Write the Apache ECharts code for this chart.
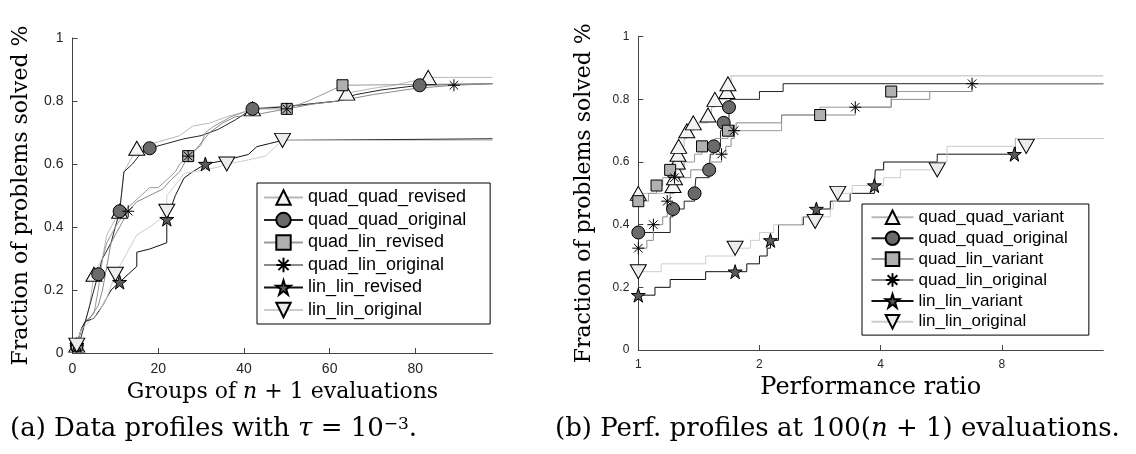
<!DOCTYPE html>
<html>
<head>
<meta charset="utf-8">
<script src="https://cdn.jsdelivr.net/npm/echarts@6/dist/echarts.min.js"></script>
<style>
  html, body { margin: 0; padding: 0; background: #fff; }
  #wrap { position: relative; width: 1136px; height: 454px; }
  #left { position: absolute; left: 0; top: 0; width: 540px; height: 454px; }
  #right { position: absolute; left: 540px; top: 0; width: 596px; height: 454px; }
</style>
</head>
<body>
<div id="wrap"><div id="left"></div><div id="right"></div></div>
<script>
// (a) data profiles: x = groups of n+1 evaluations, y = fraction solved
const dpNames = ["quad_quad_revised", "quad_quad_original", "quad_lin_revised",
  "quad_lin_original", "lin_lin_revised", "lin_lin_original"];
const dpTicks = [0, 20, 40, 60, 80];

const dpQQRev = [[1,0.025],[2,0.075],[3,0.1],[4,0.15],[5,0.25],[6,0.275],[7,0.3],[8,0.375],[9,0.4],[10,0.425],[11,0.45],[12,0.575],[13,0.6],[14,0.625],[15,0.65],[20,0.67],[25,0.69],[28,0.72],[32,0.73],[36,0.75],[40,0.765],[42,0.775],[50,0.785],[55,0.79],[62,0.8],[64,0.825],[70,0.84],[75,0.85],[80,0.865],[83,0.875],[98,0.875]];
const dpQQOrig = [[1,0.025],[2,0.05],[3,0.1],[4,0.15],[5,0.2],[6,0.25],[7,0.3],[9,0.35],[10,0.4],[11,0.45],[12,0.575],[14,0.6],[16,0.635],[18,0.65],[22,0.665],[26,0.68],[30,0.69],[34,0.71],[38,0.74],[42,0.775],[48,0.78],[55,0.79],[62,0.8],[66,0.82],[72,0.835],[81,0.85],[98,0.855]];
const dpQLRev = [[1,0.025],[2,0.075],[3,0.1],[5,0.125],[6,0.2],[7,0.3],[8,0.35],[9,0.375],[10,0.4],[11,0.42],[12,0.45],[14,0.475],[16,0.5],[18,0.525],[20,0.525],[22,0.55],[24,0.575],[25,0.6],[27,0.625],[30,0.66],[31,0.7],[33,0.72],[37,0.75],[42,0.775],[50,0.775],[55,0.8],[63,0.85],[98,0.855]];
const dpQLOrig = [[1,0.025],[2,0.07],[3,0.1],[4,0.11],[6,0.15],[7,0.2],[8,0.275],[9,0.35],[10,0.375],[11,0.4],[13,0.45],[15,0.48],[18,0.5],[21,0.52],[23,0.55],[25,0.575],[26,0.6],[27,0.625],[29,0.65],[32,0.7],[35,0.73],[38,0.75],[44,0.76],[50,0.775],[56,0.79],[62,0.8],[70,0.82],[80,0.84],[89,0.85],[98,0.855]];
const dpLLRev = [[1,0.025],[2,0.075],[3,0.1],[5,0.11],[7,0.15],[9,0.2],[11,0.225],[13,0.25],[15,0.275],[15,0.32],[18,0.33],[22,0.35],[22,0.425],[24,0.5],[26,0.555],[28,0.575],[31,0.6],[35,0.61],[38,0.62],[41,0.63],[43,0.655],[46,0.665],[49,0.675],[98,0.68]];
const dpLLOrig = [[1,0.025],[2,0.075],[4,0.1],[6,0.125],[8,0.175],[10,0.25],[12,0.3],[14,0.35],[15,0.375],[18,0.4],[20,0.42],[22,0.45],[22,0.5],[25,0.55],[26,0.57],[30,0.58],[34,0.59],[36,0.6],[40,0.61],[45,0.625],[47,0.65],[49,0.675],[98,0.675]];

// marker positions on the data profile curves
const dpQQRevMk = [[1,0.025],[5,0.25],[11,0.45],[15,0.65],[42,0.775],[64,0.825],[83,0.875]];
const dpQQOrigMk = [[1,0.025],[6,0.25],[11,0.45],[18,0.65],[42,0.775],[81,0.85]];
const dpQLRevMk = [[1,0.025],[27,0.625],[50,0.775],[63,0.85]];
const dpQLOrigMk = [[1,0.025],[13,0.45],[27,0.625],[50,0.775],[89,0.85]];
const dpLLRevMk = [[1,0.025],[11,0.225],[22,0.425],[31,0.6]];
const dpLLOrigMk = [[1,0.025],[10,0.25],[22,0.45],[36,0.6],[49,0.675]];

// (b) performance profiles: x = performance ratio (log2), y = fraction solved
const ppNames = ["quad_quad_variant", "quad_quad_original", "quad_lin_variant",
  "quad_lin_original", "lin_lin_variant", "lin_lin_original"];
const ppTicks = [1, 2, 4, 8];

const ppQQVar = [[1,0.5],[1.22,0.525],[1.23,0.55],[1.24,0.575],[1.25,0.6],[1.255,0.625],[1.26,0.65],[1.3,0.675],[1.32,0.7],[1.37,0.725],[1.49,0.75],[1.52,0.775],[1.55,0.8],[1.66,0.825],[1.67,0.85],[1.7,0.875],[14.3,0.875]];
const ppQQOrig = [[1,0.375],[1.2,0.425],[1.22,0.45],[1.3,0.475],[1.38,0.5],[1.39,0.55],[1.5,0.575],[1.51,0.625],[1.54,0.65],[1.6,0.7],[1.63,0.725],[1.68,0.775],[1.69,0.8],[2.0,0.825],[2.29,0.85],[14.3,0.85]];
const ppQLVar = [[1,0.475],[1.06,0.5],[1.11,0.525],[1.15,0.55],[1.2,0.575],[1.3,0.6],[1.38,0.625],[1.44,0.65],[1.55,0.675],[1.67,0.7],[2.27,0.75],[2.83,0.775],[4.25,0.825],[6.75,0.85],[14.3,0.85]];
const ppQLOrig = [[1,0.325],[1.05,0.35],[1.09,0.4],[1.15,0.425],[1.18,0.475],[1.2,0.5],[1.23,0.55],[1.35,0.575],[1.5,0.6],[1.61,0.625],[1.65,0.65],[1.7,0.675],[1.73,0.7],[1.75,0.725],[2.27,0.75],[3.46,0.775],[4.25,0.8],[5.3,0.825],[6.75,0.85],[14.3,0.85]];
const ppLLVar = [[1,0.175],[1.1,0.2],[1.2,0.225],[1.47,0.25],[1.86,0.275],[2.0,0.3],[2.09,0.325],[2.13,0.35],[2.23,0.4],[2.57,0.425],[2.77,0.45],[3.0,0.475],[3.36,0.5],[3.86,0.525],[3.88,0.575],[4.07,0.6],[5.53,0.625],[8.65,0.675],[14.3,0.675]];
const ppLLOrig = [[1,0.25],[1.14,0.275],[1.47,0.3],[1.74,0.325],[1.9,0.35],[2.0,0.375],[2.17,0.4],[2.55,0.425],[3.0,0.45],[3.05,0.475],[3.13,0.5],[3.4,0.525],[4.07,0.55],[4.48,0.575],[5.53,0.6],[5.85,0.65],[8.65,0.675],[14.3,0.675]];

const ppQQVarMk = [[1,0.5],[1.22,0.525],[1.23,0.55],[1.24,0.575],[1.25,0.6],[1.255,0.625],[1.26,0.65],[1.32,0.7],[1.37,0.725],[1.49,0.75],[1.55,0.8],[1.66,0.825],[1.67,0.85]];
const ppQQOrigMk = [[1,0.375],[1.22,0.45],[1.38,0.5],[1.5,0.575],[1.54,0.65],[1.63,0.725],[1.68,0.775]];
const ppQLVarMk = [[1,0.475],[1.11,0.525],[1.2,0.575],[1.44,0.65],[1.67,0.7],[2.83,0.75],[4.25,0.825]];
const ppQLOrigMk = [[1,0.325],[1.09,0.4],[1.18,0.475],[1.23,0.55],[1.61,0.625],[1.73,0.7],[3.46,0.775],[6.75,0.85]];
const ppLLVarMk = [[1,0.175],[1.74,0.25],[2.13,0.35],[2.77,0.45],[3.86,0.525],[8.6,0.625]];
const ppLLOrigMk = [[1,0.25],[1.74,0.325],[2.75,0.41],[3.13,0.5],[5.53,0.575],[9.2,0.65]];

// marker shapes, same order in both panels
const SYM_TRI_UP = "triangle";
const SYM_TRI_DOWN = "path://M-1,-0.85L1,-0.85L0,0.85Z";
const SYM_STAR = "path://M0,-1L0.2245,-0.309L0.951,-0.309L0.363,0.118L0.588,0.809L0,0.382L-0.588,0.809L-0.363,0.118L-0.951,-0.309L-0.2245,-0.309Z";
const SYM_ASTER = "path://M0,-1L0,1M-1,0L1,0M-0.71,-0.71L0.71,0.71M-0.71,0.71L0.71,-0.71";

const styles = [
  { symbol: SYM_TRI_UP, size: [16, 14], fill: "#f4f4f4", line: "#b8b8b8" },
  { symbol: "circle", size: 13, fill: "#6a6a6a", line: "#262626" },
  { symbol: "rect", size: 11, fill: "#b0b0b0", line: "#9a9a9a" },
  { symbol: SYM_ASTER, size: 12, fill: "#000", line: "#8a8a8a" },
  { symbol: SYM_STAR, size: 14, fill: "#5a5a5a", line: "#111" },
  { symbol: SYM_TRI_DOWN, size: [16, 14], fill: "#ececec", line: "#cdcdcd" },
];

const TICK_FONT = "Liberation Sans";
const MATH_FONT = "DejaVu Serif";
const AXIS_COLOR = "#444";

function buildSeries(names, lines, marks, step) {
  const out = [];
  names.forEach((name, i) => {
    const st = styles[i];
    out.push({
      type: "line", name: name, data: lines[i], step: step,
      symbol: st.symbol, symbolSize: st.size, showSymbol: false,
      lineStyle: { color: st.line, width: 1 },
      itemStyle: { color: st.fill, borderColor: "#000", borderWidth: 1 },
      emphasis: { disabled: true }, silent: true, z: 2,
    });
    out.push({
      type: "scatter", name: name + "_marks", data: marks[i],
      symbol: st.symbol, symbolSize: st.size,
      itemStyle: { color: st.fill, borderColor: "#000", borderWidth: 1, opacity: 1 },
      emphasis: { disabled: true }, silent: true, z: 2,
    });
  });
  return out;
}

function yAxisOpt(fontSize, gap) {
  return {
    type: "value", min: 0, max: 1, interval: 0.2,
    name: "Fraction of problems solved %",
    nameLocation: "middle", nameGap: gap,
    nameTextStyle: { fontFamily: MATH_FONT, fontSize: 22, color: "#000" },
    axisLine: { show: true, lineStyle: { color: AXIS_COLOR, width: 1 } },
    axisTick: { show: true, inside: true, length: 5, lineStyle: { color: AXIS_COLOR } },
    axisLabel: { fontFamily: TICK_FONT, fontSize: fontSize, color: "#262626", margin: 9 },
    splitLine: { show: false },
  };
}

function legendOpt(names, pos) {
  return {
    data: names, orient: "vertical", selectedMode: false,
    left: pos.left, top: pos.top, padding: pos.padding,
    itemWidth: pos.itemWidth, itemHeight: pos.itemHeight, itemGap: pos.itemGap,
    backgroundColor: "#fff", borderColor: "#000", borderWidth: 1, borderRadius: 0,
    textStyle: { fontFamily: TICK_FONT, fontSize: pos.fontSize, lineHeight: pos.itemHeight, color: "#000" },
  };
}

const CAP_SIZE = 26;
const captionRich = {
  i: { fontFamily: MATH_FONT, fontStyle: "italic", fontSize: CAP_SIZE, color: "#000" },
  sup: { fontFamily: MATH_FONT, fontSize: 17, color: "#000", verticalAlign: "top" },
};

// left panel
const leftChart = echarts.init(document.getElementById("left"));
leftChart.setOption({
  animation: false,
  backgroundColor: "#fff",
  title: {
    text: "(a) Data profiles with {i|τ} = 10{sup|−3}.",
    left: 5, top: 411,
    textStyle: { fontFamily: MATH_FONT, fontSize: CAP_SIZE, fontWeight: "normal", color: "#000", rich: captionRich },
  },
  grid: { left: 72.5, top: 38, width: 420, height: 315, containLabel: false, outerBoundsMode: "none" },
  xAxis: {
    type: "value", min: 0, max: 98,
    name: "Groups of {i|n} + 1 evaluations",
    nameLocation: "middle", nameGap: 26,
    nameTextStyle: {
      fontFamily: MATH_FONT, fontSize: 22, color: "#000", verticalAlign: "top",
      rich: { i: { fontFamily: MATH_FONT, fontStyle: "italic", fontSize: 22, color: "#000" } },
    },
    axisLine: { show: true, onZero: false, lineStyle: { color: AXIS_COLOR, width: 1 } },
    axisTick: { show: true, inside: true, length: 5, customValues: dpTicks, lineStyle: { color: AXIS_COLOR } },
    axisLabel: { fontFamily: TICK_FONT, fontSize: 14, color: "#262626", margin: 9, customValues: dpTicks },
    splitLine: { show: false },
  },
  yAxis: yAxisOpt(14, 40),
  legend: legendOpt(dpNames, {
    left: 257, top: 183, padding: [5.5, 24, 5, 6], itemWidth: 39, itemHeight: 18, itemGap: 4.5, fontSize: 18,
  }),
  series: buildSeries(dpNames,
    [dpQQRev, dpQQOrig, dpQLRev, dpQLOrig, dpLLRev, dpLLOrig],
    [dpQQRevMk, dpQQOrigMk, dpQLRevMk, dpQLOrigMk, dpLLRevMk, dpLLOrigMk], false),
});

// right panel
const rightChart = echarts.init(document.getElementById("right"));
rightChart.setOption({
  animation: false,
  backgroundColor: "#fff",
  title: {
    text: "(b) Perf. profiles at 100({i|n} + 1) evaluations.",
    left: 10, top: 411,
    textStyle: { fontFamily: MATH_FONT, fontSize: CAP_SIZE, fontWeight: "normal", color: "#000", rich: captionRich },
  },
  grid: { left: 98.3, top: 36.7, width: 465, height: 313.3, containLabel: false, outerBoundsMode: "none" },
  xAxis: {
    type: "log", logBase: 2, min: 1, max: 14.3,
    name: "Performance ratio",
    nameLocation: "middle", nameGap: 26,
    nameTextStyle: { fontFamily: MATH_FONT, fontSize: 24, color: "#000", verticalAlign: "top" },
    axisLine: { show: true, onZero: false, lineStyle: { color: AXIS_COLOR, width: 1 } },
    axisTick: { show: true, inside: true, length: 5, customValues: ppTicks, lineStyle: { color: AXIS_COLOR } },
    axisLabel: { fontFamily: TICK_FONT, fontSize: 12, color: "#262626", margin: 9, customValues: ppTicks },
    splitLine: { show: false },
    minorTick: { show: false },
  },
  yAxis: yAxisOpt(12, 43),
  legend: legendOpt(ppNames, {
    left: 322, top: 204, padding: [4.8, 21, 4.8, 8.5], itemWidth: 42, itemHeight: 17, itemGap: 3.9, fontSize: 17,
  }),
  series: buildSeries(ppNames,
    [ppQQVar, ppQQOrig, ppQLVar, ppQLOrig, ppLLVar, ppLLOrig],
    [ppQQVarMk, ppQQOrigMk, ppQLVarMk, ppQLOrigMk, ppLLVarMk, ppLLOrigMk], "end"),
});
</script>
</body>
</html>
